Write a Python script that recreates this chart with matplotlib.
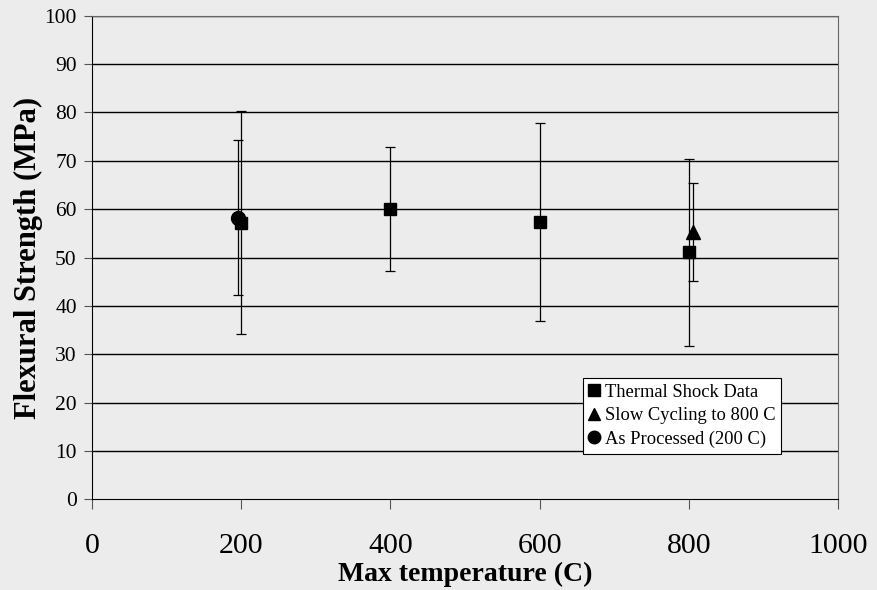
import matplotlib
matplotlib.use("Agg")
import matplotlib.pyplot as plt
from matplotlib.lines import Line2D

# Thermal shock data
shock_temp = [200, 400, 600, 800]
shock_strength = [57.2, 60.0, 57.3, 51.1]
shock_err = [23.0, 12.8, 20.5, 19.3]

# Slow cycling to 800 C
slow_temp = [805]
slow_strength = [55.2]
slow_err = [10.1]

# As processed (200 C)
proc_temp = [195]
proc_strength = [58.2]
proc_err = [16.0]

bg = "#ececec"
plt.rcParams["font.family"] = ["Liberation Serif", "DejaVu Serif"]

fig = plt.figure(figsize=(8.77, 5.90), dpi=100, facecolor=bg)
ax = fig.add_axes([0.105, 0.1534, 0.8505, 0.8203])
ax.set_facecolor(bg)

for y in range(10, 101, 10):
    ax.axhline(y, color="black", lw=1.0, zorder=1)

ekw = dict(fmt="none", ecolor="black", elinewidth=0.9, capsize=3.5, capthick=0.9, zorder=2)
ax.errorbar(shock_temp, shock_strength, yerr=shock_err, **ekw)
ax.errorbar(slow_temp, slow_strength, yerr=slow_err, **ekw)
ax.errorbar(proc_temp, proc_strength, yerr=proc_err, **ekw)

ax.plot(proc_temp, proc_strength, "o", color="black", ms=10, zorder=3)
ax.plot(shock_temp, shock_strength, "s", color="black", ms=8.5, zorder=4)
ax.plot(slow_temp, slow_strength, "^", color="black", ms=10, zorder=4)

ax.set_xlim(0, 1000)
ax.set_ylim(0, 100)
ax.set_xticks(range(0, 1001, 200))
ax.set_yticks(range(0, 101, 10))
ax.tick_params(axis="x", labelsize=21.5, direction="out", length=7, color="#555555", pad=17)
ax.tick_params(axis="y", labelsize=15.5, direction="out", length=6, color="#555555", pad=5)

ax.spines["left"].set_color("black")
ax.spines["bottom"].set_color("black")
ax.spines["top"].set_color("#666666")
ax.spines["right"].set_color("#666666")

ax.set_xlabel("Max temperature (C)", fontsize=20, fontweight="bold", labelpad=2)
ax.set_ylabel("Flexural Strength (MPa)", fontsize=22, fontweight="bold")
ax.yaxis.set_label_coords(-0.066, 0.5)

handles = [
    Line2D([], [], ls="none", marker="s", color="black", ms=9),
    Line2D([], [], ls="none", marker="^", color="black", ms=9),
    Line2D([], [], ls="none", marker="o", color="black", ms=9),
]
labels = ["Thermal Shock Data", "Slow Cycling to 800 C", "As Processed (200 C)"]
leg = ax.legend(handles, labels, loc="lower left", bbox_to_anchor=(0.658, 0.095),
                fontsize=13.3, frameon=True, fancybox=False, framealpha=1,
                edgecolor="black", handlelength=0.6, handletextpad=0.3,
                borderpad=0.3, labelspacing=0.35, borderaxespad=0)
leg.get_frame().set_linewidth(0.8)
leg.set_zorder(5)

fig.savefig("out.png", dpi=100, facecolor=bg)
